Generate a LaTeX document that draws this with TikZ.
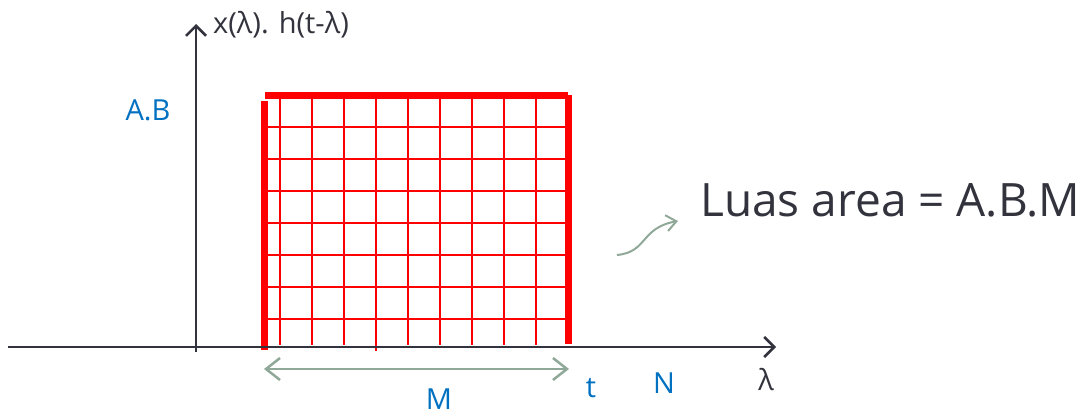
\documentclass[tikz,border=0pt]{standalone}
\usepackage{fontspec}
\setmainfont{Open Sans}
\usetikzlibrary{arrows.meta, positioning}
\definecolor{axisGray}{HTML}{33333D}
\definecolor{labelBlue}{HTML}{0070C0}
\definecolor{sageGray}{HTML}{8FA898}
\definecolor{areaRed}{HTML}{FF0000}

\begin{document}
\begin{tikzpicture}[x=1pt, y=-1pt]

        % Styles
        \tikzset{
            axisLine/.style={line width=2.5pt, draw=axisGray, -{Straight Barb[length=10pt, width=20pt, line width=2.5pt]}},
            edgeBar/.style={line width=7pt, draw=areaRed},
            gridLine/.style={line width=2pt, draw=areaRed},
            spanArrow/.style={line width=2.5pt, draw=sageGray, {Straight Barb[length=14pt, width=22pt]}-{Straight Barb[length=14pt, width=22pt]}},
            curveArrow/.style={line width=2pt, draw=sageGray, -{Straight Barb[length=10pt, width=16pt]}},
            blueLabel/.style={text=labelBlue, font=\fontsize{29}{32}\selectfont, inner sep=0pt},
            darkLabel/.style={text=axisGray, font=\fontsize{29}{32}\selectfont, inner sep=0pt}
        }

        % Frame
        \useasboundingbox (0,0) rectangle (1086,415);

        % Axis end points
        \coordinate (xStart) at (8,347);
        \coordinate (xEnd) at (776,347);
        \coordinate (yStart) at (196,352);
        \coordinate (yEnd) at (196,24);

        % Grid (area)
        \foreach \gx in {280,312,...,536} {
            \draw[gridLine] (\gx,99) -- (\gx,345);
        }
        \draw[gridLine] (376,102) -- (376,351);
        \foreach \gy in {127,159,...,319} {
            \draw[gridLine] (264,\gy) -- (566,\gy);
        }

        % Thick borders
        \coordinate (leftTop) at (264,101);
        \coordinate (leftBot) at (264,350);
        \coordinate (topLeft) at (265,95);
        \coordinate (topRight) at (568,95);
        \coordinate (rightTop) at (568,95);
        \coordinate (rightBot) at (568,344);
        \draw[edgeBar] (leftTop) -- (leftBot);
        \draw[edgeBar] (topLeft) -- (topRight);
        \draw[edgeBar] (rightTop) -- (rightBot);

        % Axes
        \draw[axisLine] (xStart) -- (xEnd);
        \draw[axisLine] (yStart) -- (yEnd);

        % Labels
        \node[darkLabel, anchor=west] (yLabel) at (213,25) {x(λ). h(t-λ)};
        \node[darkLabel] (lamLabel) at (766,380) {λ};
        \node[blueLabel] (abLabel) at (148,110) {A.B};
        \node[blueLabel] (tLabel) at (591,388) {t};
        \node[blueLabel] (nLabel) at (664,383) {N};
        \node[blueLabel] (mLabel) at (439,399) {M};
        \node[text=axisGray, font=\fontsize{46}{50}\selectfont, inner sep=0pt, anchor=west] (areaLabel) at (700,200) {Luas area = A.B.M};

        % Width arrow M
        \coordinate (spanL) at (264,369);
        \coordinate (spanR) at (569,369);
        \draw[spanArrow] (spanL) -- (spanR);

        % Curved pointer
        \coordinate (curveS) at (617,255);
        \coordinate (curveE) at (678,221);
        \draw[curveArrow] (curveS) .. controls (648,252) and (640,228) .. (curveE);

\end{tikzpicture}
\end{document}
